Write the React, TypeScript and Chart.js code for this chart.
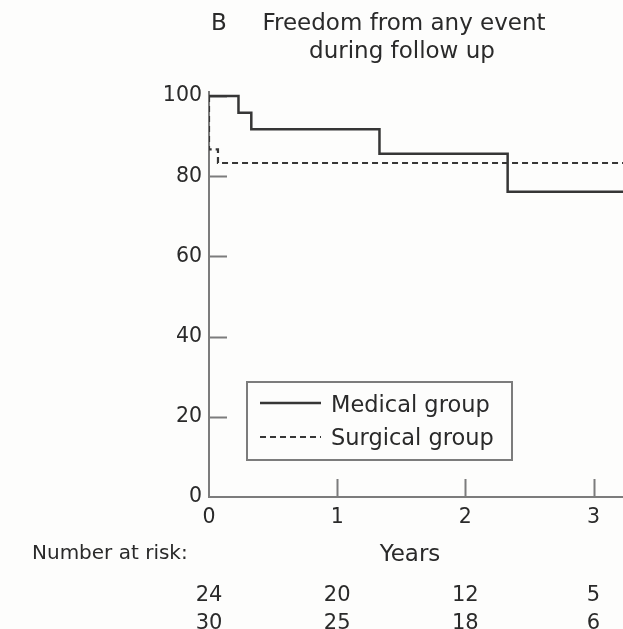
import React, { useEffect, useRef } from "react";
import { Chart, registerables } from "chart.js";

Chart.register(...registerables);

// ---- data ----
const panelLetter = "B";
const titleLines = ["Freedom from any event", "during follow up"];
const seriesLabels = ["Medical group", "Surgical group"];
const yearTicks = [0, 1, 2, 3];
const percentTicks = [0, 20, 40, 60, 80, 100];
const medicalTimes = [0, 0.23, 0.33, 1.33, 2.33, 3.23];
const medicalSurvival = [100, 95.8, 91.7, 85.6, 76.1, 76.1];
const surgicalTimes = [0, 0, 0.07, 3.23];
const surgicalSurvival = [100, 86.7, 83.3, 83.3];
const riskLabel = "Number at risk:";
const xAxisLabel = "Years";
const riskMedical = [24, 20, 12, 5];
const riskSurgical = [30, 25, 18, 6];

const FONT = "'DejaVu Sans', sans-serif";
const INK = "#2a2a2a";
const LINE = "#363636";
const AXIS = "#7c7c7c";

const decorPlugin = {
  id: "decor",
  beforeDraw(chart: any) {
    const ctx = chart.ctx;
    ctx.save();
    ctx.fillStyle = "#fdfdfc";
    ctx.fillRect(0, 0, chart.width, chart.height);
    ctx.restore();
  },
  beforeDatasetsDraw(chart: any) {
    const ctx = chart.ctx;
    const xs = chart.scales.x;
    const ys = chart.scales.y;
    const area = chart.chartArea;
    ctx.save();
    ctx.strokeStyle = AXIS;
    ctx.lineWidth = 2;
    ctx.beginPath();
    percentTicks.forEach((v) => {
      if (v === 0) return;
      const y = Math.round(ys.getPixelForValue(v)) + 0.5;
      ctx.moveTo(area.left, y);
      ctx.lineTo(area.left + 18, y);
    });
    yearTicks.forEach((v) => {
      if (v === 0) return;
      const x = Math.round(xs.getPixelForValue(v)) + 0.5;
      ctx.moveTo(x, area.bottom);
      ctx.lineTo(x, area.bottom - 18);
    });
    ctx.stroke();
    ctx.restore();
  },
  afterDraw(chart: any) {
    const ctx = chart.ctx;
    const xs = chart.scales.x;
    ctx.save();
    ctx.fillStyle = INK;
    ctx.textBaseline = "alphabetic";

    // title
    ctx.font = `23px ${FONT}`;
    ctx.textAlign = "left";
    ctx.fillText(panelLetter, 211, 30);
    ctx.textAlign = "center";
    ctx.fillText(titleLines[0], 404, 30);
    ctx.fillText(titleLines[1], 402, 58);

    // axis title
    ctx.font = `23px ${FONT}`;
    ctx.fillText(xAxisLabel, 410, 561);

    // number at risk
    ctx.font = `20px ${FONT}`;
    ctx.textAlign = "left";
    ctx.fillText(riskLabel, 32, 559);
    ctx.font = `21px ${FONT}`;
    ctx.textAlign = "center";
    yearTicks.forEach((t, i) => {
      const x = xs.getPixelForValue(t);
      ctx.fillText(String(riskMedical[i]), x, 601);
      ctx.fillText(String(riskSurgical[i]), x, 629);
    });

    // legend
    ctx.strokeStyle = AXIS;
    ctx.lineWidth = 2;
    ctx.strokeRect(247, 382, 265, 78);
    const rows = [403, 437];
    const baselines = [412, 445];
    chart.data.datasets.forEach((ds: any, i: number) => {
      ctx.save();
      ctx.strokeStyle = ds.borderColor;
      ctx.lineWidth = ds.borderWidth;
      ctx.setLineDash(ds.borderDash || []);
      ctx.beginPath();
      ctx.moveTo(260, rows[i]);
      ctx.lineTo(321, rows[i]);
      ctx.stroke();
      ctx.restore();
      ctx.font = `22.5px ${FONT}`;
      ctx.textAlign = "left";
      ctx.fillStyle = INK;
      ctx.fillText(ds.label, 331, baselines[i]);
    });
    ctx.restore();
  },
};

export default function App() {
  const ref = useRef<HTMLCanvasElement | null>(null);
  useEffect(() => {
    if (!ref.current) return;
    const chart = new Chart(ref.current, {
      type: "line",
      data: {
        datasets: [
          {
            label: seriesLabels[0],
            data: medicalTimes.map((t, i) => ({ x: t, y: medicalSurvival[i] })),
            borderColor: LINE,
            borderWidth: 2.5,
            pointRadius: 0,
            stepped: "before",
            fill: false,
          },
          {
            label: seriesLabels[1],
            data: surgicalTimes.map((t, i) => ({ x: t, y: surgicalSurvival[i] })),
            borderColor: LINE,
            borderWidth: 2.2,
            borderDash: [6, 4],
            pointRadius: 0,
            stepped: "before",
            fill: false,
          },
        ],
      },
      options: {
        responsive: false,
        animation: false,
        devicePixelRatio: 1,
        layout: { padding: { top: 92, left: 0, right: 0, bottom: 0 } },
        plugins: {
          legend: { display: false },
          title: { display: false },
          tooltip: { enabled: false },
        },
        scales: {
          x: {
            type: "linear",
            min: 0,
            max: 3.23,
            grid: { display: false, drawTicks: false },
            border: { display: true, color: AXIS, width: 2 },
            ticks: {
              color: INK,
              font: { family: FONT, size: 20.5 },
              padding: 8,
              maxRotation: 0,
            },
            afterBuildTicks: (scale: any) => {
              scale.ticks = yearTicks.map((v) => ({ value: v }));
            },
            afterFit: (scale: any) => {
              scale.height = 132;
            },
          },
          y: {
            type: "linear",
            min: 0,
            max: 101,
            grid: { display: false, drawTicks: false },
            border: { display: true, color: AXIS, width: 2 },
            ticks: {
              color: INK,
              font: { family: FONT, size: 20.5 },
              padding: 7,
            },
            afterBuildTicks: (scale: any) => {
              scale.ticks = percentTicks.map((v) => ({ value: v }));
            },
            afterFit: (scale: any) => {
              scale.width = 209;
            },
          },
        },
      },
      plugins: [decorPlugin],
    });
    return () => chart.destroy();
  }, []);
  return (
    <div style={{ position: "absolute", left: 0, top: 0 }}>
      <canvas ref={ref} width={623} height={629} style={{ display: "block", width: 623, height: 629 }} />
    </div>
  );
}
